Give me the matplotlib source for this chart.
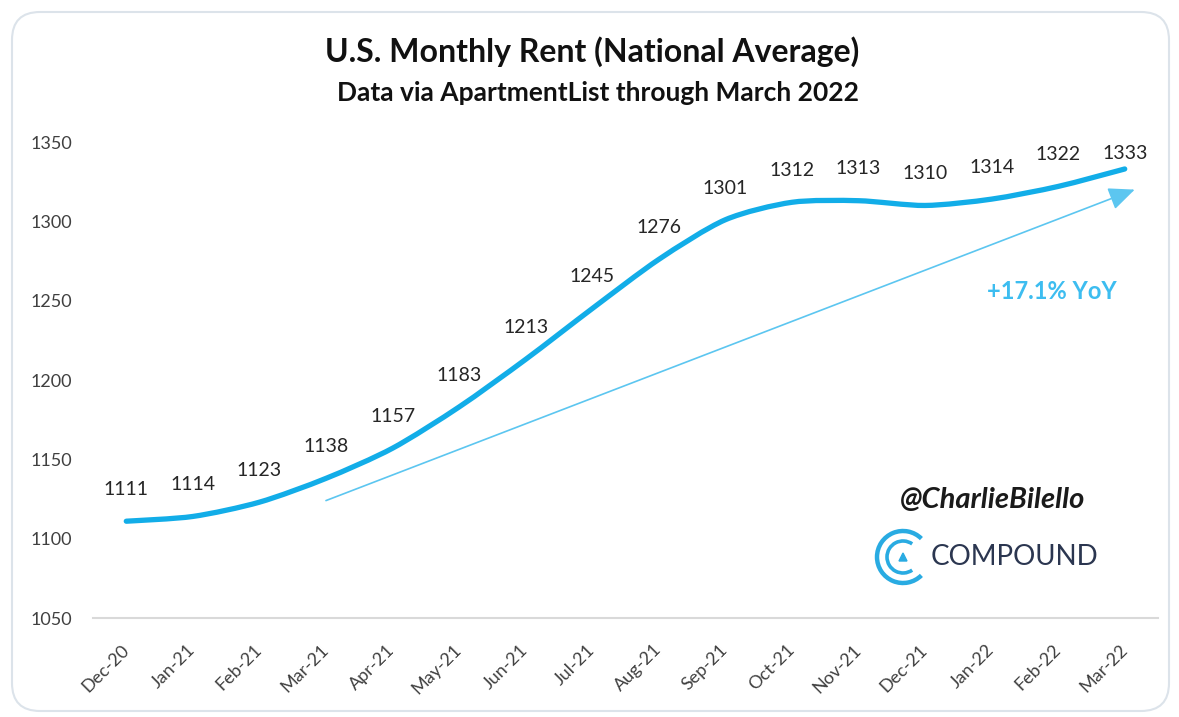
import numpy as np
import matplotlib
matplotlib.use("Agg")
import matplotlib.pyplot as plt
from matplotlib.path import Path
from matplotlib.patches import PathPatch, FancyBboxPatch, Arc, Polygon

months = ["Dec-20", "Jan-21", "Feb-21", "Mar-21", "Apr-21", "May-21", "Jun-21", "Jul-21",
          "Aug-21", "Sep-21", "Oct-21", "Nov-21", "Dec-21", "Jan-22", "Feb-22", "Mar-22"]
rent = [1111, 1114, 1123, 1138, 1157, 1183, 1213, 1245,
        1276, 1301, 1312, 1313, 1310, 1314, 1322, 1333]
yticks = [1050, 1100, 1150, 1200, 1250, 1300, 1350]

# trend arrow (from Mar-21 to just past Mar-22)
arrow_start = (3.0, 1124)
arrow_end = (15.15, 1320)
yoy_text = "+17.1% YoY"

blue = "#12ADE8"
light_blue = "#5CC6F0"
plt.rcParams["font.family"] = ["Lato", "DejaVu Sans"]

fig = plt.figure(figsize=(11.79, 7.17), dpi=100)
W, H = 1179, 717
ax = fig.add_axes([93 / W, 1 - 618 / H, (1158 - 93) / W, (618 - 142) / H])

x = np.arange(len(rent))
y = np.array(rent, dtype=float)

# smoothed line (Excel style) drawn as bezier segments through the data points
verts = [(x[0], y[0])]
codes = [Path.MOVETO]
n = len(x)
for i in range(n - 1):
    p0 = np.array([x[max(i - 1, 0)], y[max(i - 1, 0)]])
    p1 = np.array([x[i], y[i]])
    p2 = np.array([x[i + 1], y[i + 1]])
    p3 = np.array([x[min(i + 2, n - 1)], y[min(i + 2, n - 1)]])
    c1 = p1 + (p2 - p0) / 7.5
    c2 = p2 - (p3 - p1) / 7.5
    verts += [tuple(c1), tuple(c2), tuple(p2)]
    codes += [Path.CURVE4] * 3
ax.add_patch(PathPatch(Path(verts, codes), facecolor="none", edgecolor=blue,
                       lw=3.8, capstyle="round", joinstyle="round", zorder=3))
ax.plot(x, y, alpha=0)

for xi, v in zip(x, rent):
    ax.text(xi, min(v + 20, 1343), str(v), ha="center", va="center",
            fontsize=14, color="#262626")

ax.annotate("", xy=arrow_end, xytext=arrow_start,
            arrowprops=dict(arrowstyle="-|>,head_length=0.8,head_width=0.35",
                            color=light_blue, lw=1.2, mutation_scale=20,
                            shrinkA=0, shrinkB=0))
ax.text(13.9, 1256, yoy_text, ha="center", va="center", fontsize=17,
        fontweight="bold", color="#3DBDF0")

ax.set_xlim(-0.5, len(rent) - 0.5)
ax.set_ylim(1050, 1350)
ax.set_yticks(yticks)
ax.set_xticks(x)
ax.set_xticklabels(months)
ax.tick_params(axis="both", length=0, labelsize=13, labelcolor="#404040")
ax.tick_params(axis="y", pad=15)
ax.tick_params(axis="x", pad=21)
plt.setp(ax.get_xticklabels(), rotation=45, ha="right", va="center",
         rotation_mode="anchor")
for s in ["top", "right", "left"]:
    ax.spines[s].set_visible(False)
ax.spines["bottom"].set_color("#D9D9D9")
ax.spines["bottom"].set_linewidth(1.5)
ax.set_facecolor("none")

fig.text(592 / W, 1 - 52 / H, "U.S. Monthly Rent (National Average)", ha="center",
         va="center", fontsize=23, fontweight="bold", color="#111111")
fig.text(598 / W, 1 - 93 / H, "Data via ApartmentList through March 2022", ha="center",
         va="center", fontsize=19, fontweight="bold", color="#111111")

# overlay for card border and watermark/logo, in pixel units
ov = fig.add_axes([0, 0, 1, 1], zorder=-1)
ov.set_xlim(0, W)
ov.set_ylim(0, H)
ov.axis("off")
ov.add_patch(FancyBboxPatch((12, 6), W - 22, H - 18, boxstyle="round,pad=0,rounding_size=28",
                            facecolor="white", edgecolor="#DCE3EA", lw=1.5))

top = fig.add_axes([0, 0, 1, 1], zorder=5)
top.set_xlim(0, W)
top.set_ylim(0, H)
top.axis("off")
top.text(993, H - 500, "@CharlieBilello", ha="center", va="center", fontsize=21,
         fontweight="bold", fontstyle="italic", color="#1a1a1a")
top.text(1014, H - 557, "COMPOUND", ha="center", va="center", fontsize=20,
         color="#2B3650")
cx, cy = 903, H - 557
top.add_patch(Arc((cx, cy), 52, 52, theta1=45, theta2=315, color="#29ABE2", lw=3.2))
top.add_patch(Arc((cx, cy), 32, 32, theta1=55, theta2=305, color="#29ABE2", lw=2.6))
top.add_patch(Polygon([(cx - 4, cy - 4), (cx + 4, cy - 4), (cx, cy + 4)],
                      closed=True, color="#29ABE2"))

fig.savefig("out.png", dpi=100, facecolor="white")
